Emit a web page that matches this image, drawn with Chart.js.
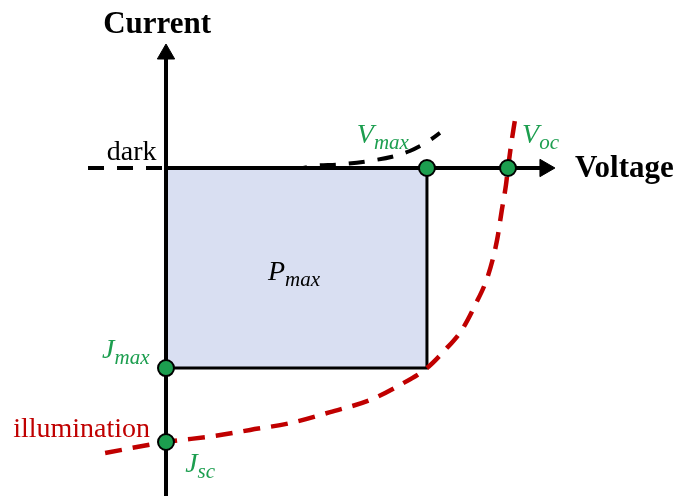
<!DOCTYPE html>
<html><head><meta charset="utf-8">
<script src="https://cdn.jsdelivr.net/npm/chart.js@4.4.0/dist/chart.umd.min.js"></script>
<style>html,body{margin:0;padding:0;background:#fff}canvas{display:block}</style>
</head><body>
<canvas id="c" width="676" height="496"></canvas>
<script>
// Voltage in units of V_oc, current in units of |J_sc|
const VOC = 1.0;
const VMAX = 0.763;
const JSC = -1.0;
const JMAX = -0.73;

// illuminated J-V curve
const illumV = [-0.178, 0, 0.143, 0.246, 0.363, 0.480, 0.596, 0.684, 0.763, 0.816, 0.865, 0.904, 0.942, 0.968, 0.982, 0.994, 1.0, 1.009, 1.018, 1.023];
const illumJ = [-1.040, -1.0, -0.978, -0.956, -0.931, -0.891, -0.847, -0.792, -0.730, -0.664, -0.591, -0.500, -0.391, -0.263, -0.153, -0.062, 0, 0.084, 0.157, 0.193];

// dark J-V curve
const darkV = [-0.228, 0, 0.392, 0.433, 0.509, 0.596, 0.670, 0.713, 0.743, 0.772, 0.801];
const darkJ = [0, 0, 0, 0.008, 0.013, 0.026, 0.044, 0.062, 0.080, 0.102, 0.128];

// axis extents (view window and arrow ends)
const viewV = [-0.4854, 1.4912];
const viewJ = [-1.1971, 0.6131];
const axisVEnd = 1.108, axisJEnd = 0.416, axisJStart = -1.25;

const pts = (xs, ys) => xs.map((v, i) => ({x: v, y: ys[i]}));

const GREEN = '#1c9e4f';
const RED = '#c00000';

const labels = [
  {text: 'Current', v: -0.026, j: 0.493, color: '#000', font: 'bold 31px "Liberation Serif"', align: 'center'},
  {text: 'Voltage', v: 1.196, j: -0.033, color: '#000', font: 'bold 31px "Liberation Serif"', align: 'left'},
  {text: 'dark', v: -0.173, j: 0.029, color: '#000', font: '28px "Liberation Serif"', align: 'left'},
  {text: 'illumination', v: -0.447, j: -0.982, color: RED, font: '28px "Liberation Serif"', align: 'left'},
  {text: 'V', sub: 'max', v: 0.558, j: 0.091, color: GREEN},
  {text: 'V', sub: 'oc', v: 1.041, j: 0.091, color: GREEN},
  {text: 'P', sub: 'max', v: 0.298, j: -0.409, color: '#000'},
  {text: 'J', sub: 'max', v: -0.187, j: -0.693, color: GREEN},
  {text: 'J', sub: 'sc', v: 0.056, j: -1.108, color: GREEN}
];

const labelPlugin = {
  id: 'jvLabels',
  afterDatasetsDraw(chart) {
    const {ctx, scales: {x, y}} = chart;
    ctx.save();
    ctx.textBaseline = 'alphabetic';
    labels.forEach(l => {
      const px = x.getPixelForValue(l.v), py = y.getPixelForValue(l.j);
      ctx.fillStyle = l.color;
      if (l.sub) {
        ctx.textAlign = 'left';
        ctx.font = 'italic 28px "Liberation Serif"';
        ctx.fillText(l.text, px, py);
        const w = ctx.measureText(l.text).width;
        ctx.font = 'italic 21px "Liberation Serif"';
        ctx.fillText(l.sub, px + w, py + 6);
      } else {
        ctx.textAlign = l.align;
        ctx.font = l.font;
        ctx.fillText(l.text, px, py);
      }
    });
    ctx.restore();
  }
};

new Chart(document.getElementById('c'), {
  type: 'scatter',
  data: {
    datasets: [
      { // marked points
        data: [{x: VMAX, y: 0}, {x: VOC, y: 0}, {x: 0, y: JMAX}, {x: 0, y: JSC}],
        showLine: false, pointRadius: 8, pointBorderWidth: 2,
        pointBackgroundColor: GREEN, pointBorderColor: '#000', order: 0
      },
      { // x axis
        data: [{x: 0, y: 0}, {x: axisVEnd, y: 0}],
        showLine: true, borderColor: '#000', borderWidth: 4,
        pointRadius: [0, 10], pointStyle: 'triangle', rotation: 90,
        pointBackgroundColor: '#000', pointBorderColor: '#000', pointBorderWidth: 1, order: 1
      },
      { // y axis
        data: [{x: 0, y: axisJStart}, {x: 0, y: axisJEnd}],
        showLine: true, borderColor: '#000', borderWidth: 4,
        pointRadius: [0, 10], pointStyle: 'triangle', rotation: 0,
        pointBackgroundColor: '#000', pointBorderColor: '#000', pointBorderWidth: 1, order: 1
      },
      { // illuminated curve
        data: pts(illumV, illumJ),
        showLine: true, borderColor: RED, borderWidth: 4.5, borderDash: [17, 11],
        pointRadius: 0, cubicInterpolationMode: 'monotone', order: 2
      },
      { // dark curve
        data: pts(darkV, darkJ),
        showLine: true, borderColor: '#000', borderWidth: 4, borderDash: [16, 13],
        pointRadius: 0, cubicInterpolationMode: 'monotone', order: 3
      },
      { // maximum power rectangle
        data: [{x: 0, y: JMAX}, {x: VMAX, y: JMAX}, {x: VMAX, y: 0}],
        showLine: true, borderColor: '#000', borderWidth: 3,
        backgroundColor: '#d9dff2', fill: {value: 0},
        pointRadius: 0, tension: 0, order: 4
      }
    ]
  },
  options: {
    responsive: false, animation: false,
    layout: {padding: 0, autoPadding: false},
    plugins: {legend: {display: false}, tooltip: {enabled: false}},
    scales: {
      x: {type: 'linear', min: viewV[0], max: viewV[1], display: false},
      y: {type: 'linear', min: viewJ[0], max: viewJ[1], display: false}
    }
  },
  plugins: [labelPlugin]
});
</script>
</body></html>
